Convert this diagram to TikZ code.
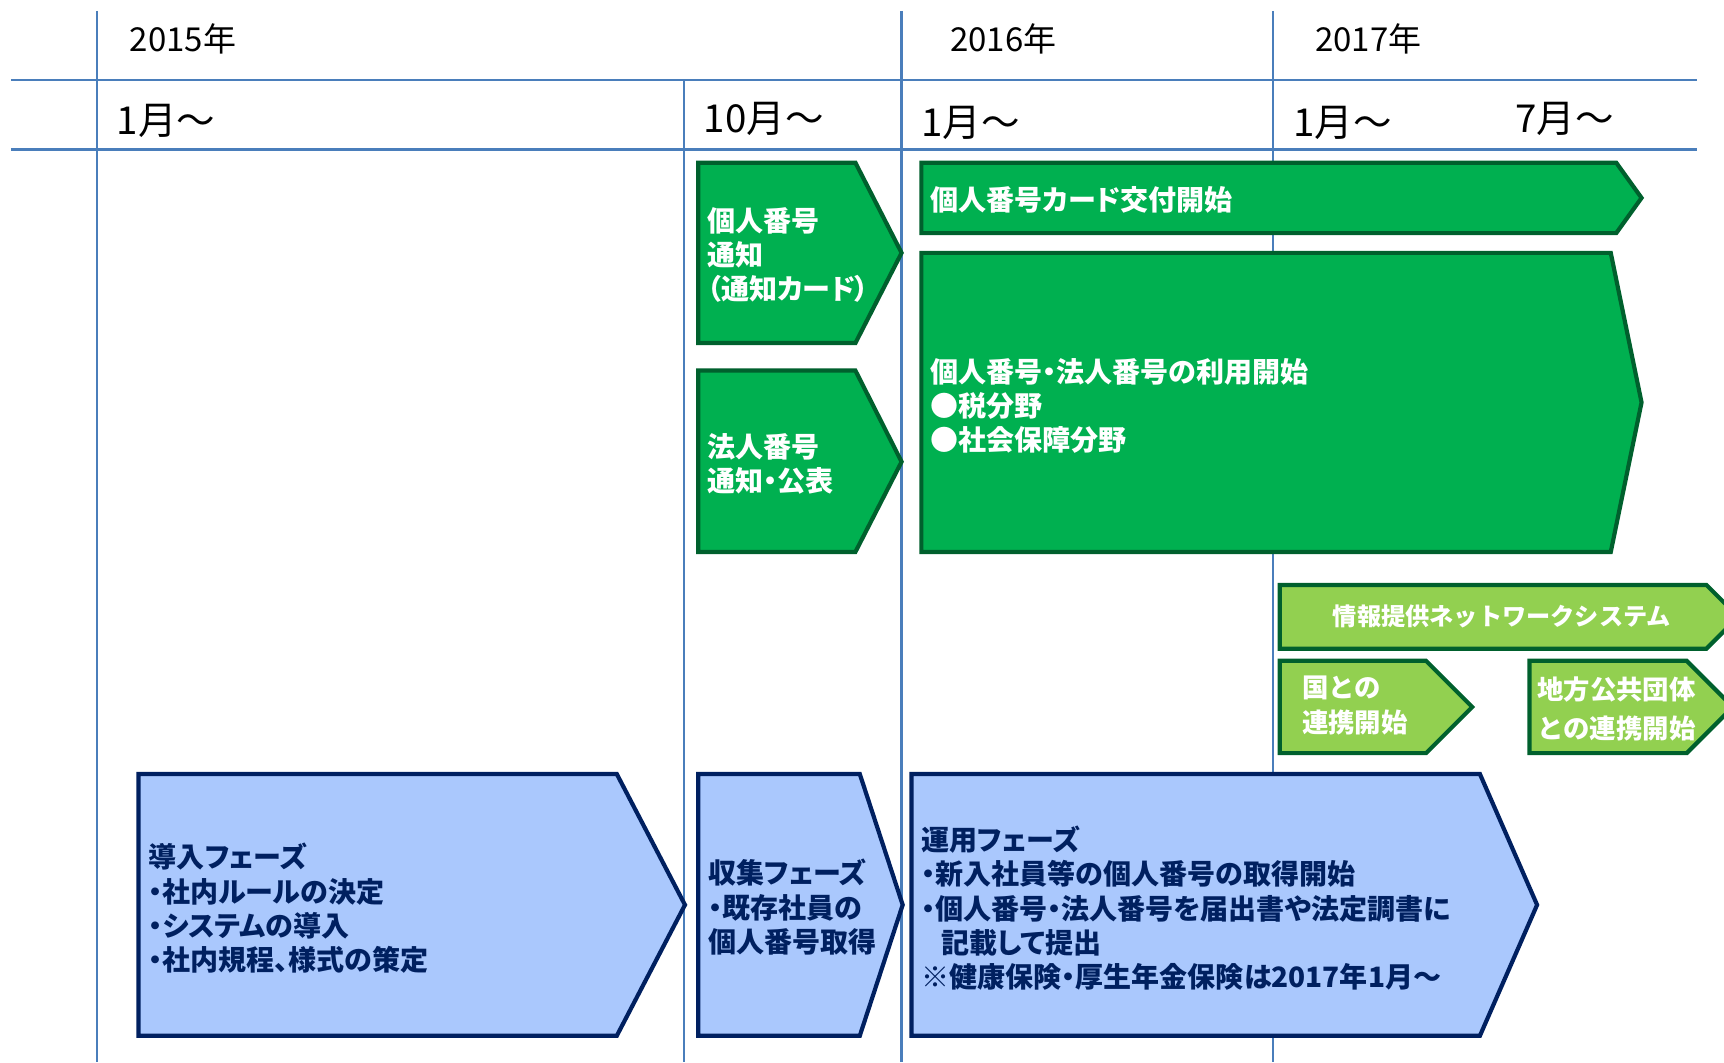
\documentclass[tikz,border=0pt]{standalone}
\usepackage{fontspec}
\setmainfont{Noto Sans CJK JP}
\newfontfamily\pfont{Noto Sans CJK JP}[RawFeature=+palt]
\definecolor{gridblue}{HTML}{4A7EBB}
\definecolor{dgreen}{HTML}{00B050}
\definecolor{lgreen}{HTML}{92D050}
\definecolor{gborder}{HTML}{00602D}
\definecolor{lblue}{HTML}{AAC8FD}
\definecolor{navy}{HTML}{002060}
\tikzset{
  gridline/.style={draw=gridblue, line width=2pt},
  gshape/.style={fill=dgreen, draw=gborder, line width=3.8pt},
  lshape/.style={fill=lgreen, draw=gborder, line width=3.8pt},
  bshape/.style={fill=lblue, draw=navy, line width=3.8pt},
  ytxt/.style={anchor=west, inner sep=0pt, font=\fontsize{30}{36}\selectfont},
  mtxt/.style={anchor=west, inner sep=0pt, font=\fontsize{35}{40}\selectfont},
  wtxt/.style={anchor=west, inner sep=0pt, align=left, text=white, font=\pfont\bfseries\fontsize{25.5}{31}\selectfont},
  ltxt/.style={anchor=west, inner sep=0pt, align=left, text=white, font=\bfseries\fontsize{24}{32}\selectfont},
  ntxt/.style={anchor=west, inner sep=0pt, align=left, text=navy, font=\pfont\bfseries\fontsize{25.5}{31}\selectfont},
}
\begin{document}
\begin{tikzpicture}[x=1pt,y=-1pt]
\useasboundingbox (0,0) rectangle (1568,966);
\clip (0,0) rectangle (1568,966);
% grid
\draw[gridline] (88,10) -- (88,966);
\draw[gridline] (622,73) -- (622,966);
\draw[gridline] (820,10) -- (820,966);
\draw[gridline] (1158,10) -- (1158,966);
\draw[gridline] (10,73) -- (1543,73);
\draw[gridline] (10,136) -- (1543,136);
% headers
\node[ytxt] (y2015) at (118,35) {2015年};
\node[ytxt] (y2016) at (864,35) {2016年};
\node[ytxt] (y2017) at (1196,35) {2017年};
\node[mtxt] (m1) at (106,110) {1月～};
\node[mtxt] (m2) at (640,108) {10月～};
\node[mtxt] (m3) at (838,112) {1月～};
\node[mtxt] (m4) at (1176,112) {1月～};
\node[mtxt] (m5) at (1378,108) {7月～};
% dark green
\draw[gshape] (635,148) -- (778,148) -- (820,230) -- (778,312) -- (635,312) -- cycle;
\node[wtxt] (g1) at (643,232) {個人番号\\通知\\（通知カード）};
\draw[gshape] (635,337) -- (778,337) -- (820,420) -- (778,502) -- (635,502) -- cycle;
\node[wtxt] (g2) at (643,422) {法人番号\\通知・公表};
\draw[gshape] (838,148) -- (1470,148) -- (1493,180) -- (1470,212) -- (838,212) -- cycle;
\node[wtxt] (g3) at (846,182) {個人番号カード交付開始};
\draw[gshape] (838,230) -- (1465,230) -- (1493,366) -- (1465,502) -- (838,502) -- cycle;
\node[wtxt] (g4) at (846,369) {個人番号・法人番号の利用開始\\●税分野\\●社会保障分野};
% light green
\draw[lshape] (1164,532) -- (1552,532) -- (1581,561) -- (1552,590) -- (1164,590) -- cycle;
\node[ltxt, anchor=center, font=\bfseries\fontsize{22}{28}\selectfont] (l1) at (1366,561) {情報提供ネットワークシステム};
\draw[lshape] (1164,601) -- (1297,601) -- (1339,643) -- (1297,685) -- (1164,685) -- cycle;
\node[ltxt] (l2) at (1184,642) {国との\\連携開始};
\draw[lshape] (1391,601) -- (1534,601) -- (1576,643) -- (1534,685) -- (1391,685) -- cycle;
\node[ltxt, font=\bfseries\fontsize{24}{35}\selectfont] (l3) at (1398,645) {地方公共団体\\との連携開始};
% blue
\draw[bshape] (126,704) -- (561,704) -- (623,823) -- (561,942) -- (126,942) -- cycle;
\node[ntxt] (b1) at (135,826) {導入フェーズ\\・社内ルールの決定\\・システムの導入\\・社内規程、様式の策定};
\draw[bshape] (635,704) -- (782,704) -- (821,823) -- (782,942) -- (635,942) -- cycle;
\node[ntxt] (b2) at (644,825) {収集フェーズ\\・既存社員の\\個人番号取得};
\draw[bshape] (829,704) -- (1346,704) -- (1398,823) -- (1346,942) -- (829,942) -- cycle;
\node[ntxt] (b3) at (838,826) {運用フェーズ\\・新入社員等の個人番号の取得開始\\・個人番号・法人番号を届出書や法定調書に\\\hspace*{18pt}記載して提出\\※健康保険・厚生年金保険は2017年1月～};
\end{tikzpicture}
\end{document}
